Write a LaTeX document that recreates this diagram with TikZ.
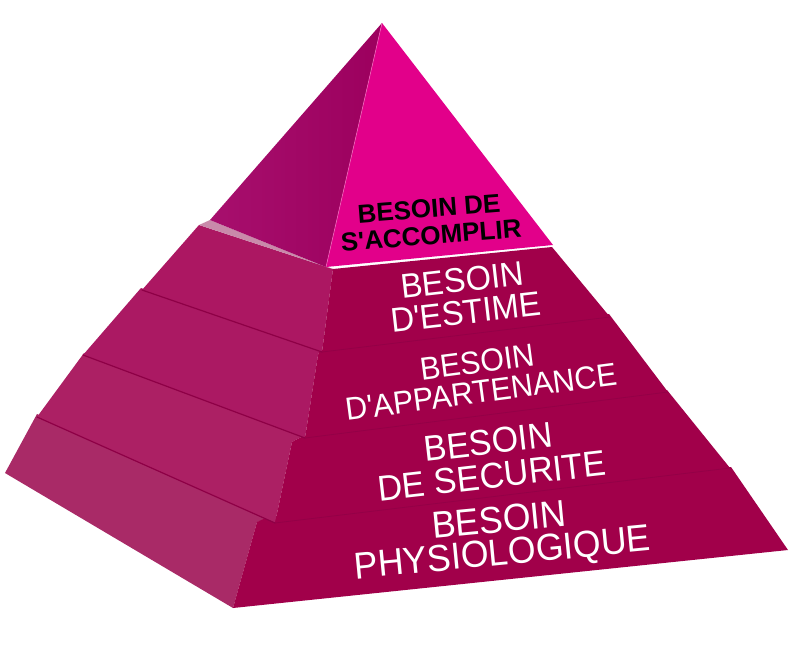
\documentclass[tikz,border=0pt]{standalone}
\usepackage{fontspec}
\setmainfont{Liberation Sans}
\newfontfamily\tiersans[FakeStretch=0.95]{Liberation Sans}
\newfontfamily\peaksans{Liberation Sans Bold}
\usetikzlibrary{calc}
\definecolor{peakleft}{HTML}{9C005E}
\definecolor{peakleftlt}{HTML}{A70F6D}
\definecolor{peakright}{HTML}{E2008A}
\definecolor{tierright}{HTML}{A1004A}
\definecolor{estimeleft}{HTML}{AC1762}
\definecolor{appleft}{HTML}{AB1963}
\definecolor{secleft}{HTML}{AC2064}
\definecolor{physleft}{HTML}{A92A67}
\definecolor{crease}{HTML}{8E0046}
\definecolor{ledge}{HTML}{C98AAA}

\begin{document}
\begin{tikzpicture}[x=1pt, y=-1pt,
  face/.style   = {line join=round},
  fold/.style   = {draw=crease, line width=1.2pt, line cap=round},
  softfold/.style = {draw=crease!70!tierright, line width=0.8pt},
  lbl/.style    = {text=white, align=center, inner sep=0pt},
  toplbl/.style = {text=black, align=center, rotate=4.5, inner sep=0pt,
                   font=\peaksans\fontsize{26}{27}\selectfont},
]
\useasboundingbox (0,0) rectangle (800,656);

% --- corners of the peak --------------------------------------------------------------
\coordinate (apex) at (382,23);
\coordinate (l0) at (210,220); \coordinate (f0) at (326,267); \coordinate (r0) at (553,245);

% --- bottom tier: physiologique (top edges tucked under the tier above) -----------------
\fill[face, physleft]  (37,414) -- (272,518) -- (257,522) -- (233,608) -- (5,473) -- cycle;
\fill[face, tierright] (257,522) -- (268,517) -- (731,467) -- (788,550) -- (233,608) -- cycle;

% --- securite -------------------------------------------------------------------------
\fill[face, secleft]   (84,353) -- (303,436) -- (292,442) -- (275,523) -- (37,417) -- cycle;
\fill[face, tierright] (292,442) -- (303,436) -- (667,390) -- (730,468) -- (275,523) -- cycle;
\draw[fold] (37,417) -- (275,523);
\draw[softfold] (275,523) -- (730,468);

% --- appartenance ---------------------------------------------------------------------
\fill[face, appleft]   (141,288) -- (320,350) -- (318,355) -- (305,438) -- (83,355) -- cycle;
\fill[face, tierright] (318,355) -- (320,350) -- (609,314) -- (668,392) -- (305,438) -- cycle;
\draw[fold] (83,355) -- (305,438);
\draw[softfold] (305,438) -- (668,392);

% --- estime ---------------------------------------------------------------------------
\fill[face, estimeleft] (199,225) -- (333,269) -- (322,352) -- (142,290) -- cycle;
\fill[face, tierright]  (333,269) -- (552,247) -- (610,317) -- (322,352) -- cycle;
\draw[fold] (142,290) -- (322,352);
\draw[softfold] (322,352) -- (610,317);
\fill[ledge] (199,225) -- (210,220) -- (326,267) -- (333,269) -- cycle;

% --- the peak -------------------------------------------------------------------------
\shade[face, left color=peakleftlt, right color=peakleft] (apex) -- (l0) -- (f0) -- cycle;
\fill[face, peakright] (apex) -- (f0) -- (r0) -- cycle;
\draw[peakright!60!white, line width=0.6pt] (apex) -- (f0);

% --- labels ---------------------------------------------------------------------------
\node[toplbl] (accomplir) at (430,222) {BESOIN DE\\S'ACCOMPLIR};
\node[lbl, rotate=6.5, font=\tiersans\fontsize{34.3}{32.5}\selectfont] (estime) at (464,296) {BESOIN\\D'ESTIME};
\node[lbl, rotate=7.5, font=\tiersans\fontsize{32}{30}\selectfont]     (appart) at (479,377) {BESOIN\\D'APPARTENANCE};
\node[lbl, rotate=6.5, font=\tiersans\fontsize{35.9}{34}\selectfont]   (secur)  at (490,459) {BESOIN\\DE SECURITE};
\node[lbl, rotate=5.5, font=\tiersans\fontsize{37.6}{33}\selectfont]   (physio) at (501,539) {BESOIN\\PHYSIOLOGIQUE};

\end{tikzpicture}
\end{document}
